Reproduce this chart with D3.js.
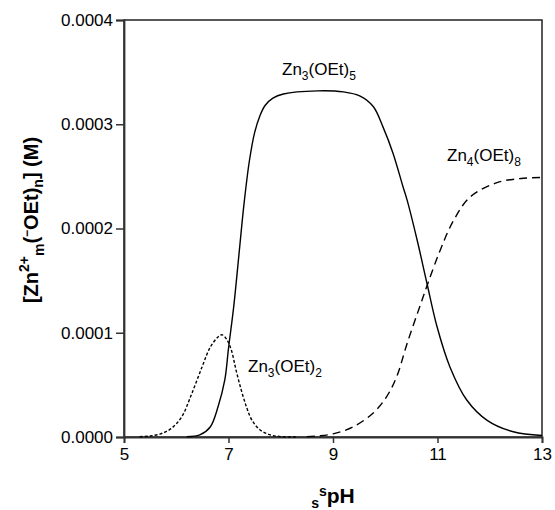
<!DOCTYPE html>
<html>
<head>
<meta charset="utf-8">
<script src="https://cdn.jsdelivr.net/npm/d3@7/dist/d3.min.js"></script>
<style>
  html, body { margin: 0; padding: 0; background: #fff; }
  svg { display: block; font-family: "Liberation Sans", Arial, Helvetica, sans-serif; }
</style>
</head>
<body>
<svg id="chart" width="555" height="510"></svg>
<script>
// Speciation of zinc ethoxide clusters versus pH (concentrations in M)
const zn3oet2_pH   = [5.3, 5.5, 5.7, 5.9, 6.1, 6.3, 6.5, 6.65, 6.8, 6.88, 6.96, 7.05, 7.15, 7.25, 7.35, 7.45, 7.6, 7.8, 8.0, 8.3];
const zn3oet2_conc = [0.0000003, 0.000001, 0.000003, 0.000008, 0.000019, 0.000042, 0.000068, 0.000086, 0.000096, 0.000098, 0.000094, 0.000084, 0.000063, 0.000044, 0.000028, 0.000016, 0.000007, 0.000002, 0.0000004, 0];

const zn3oet5_pH   = [6.2, 6.45, 6.65, 6.8, 6.93, 7.0, 7.1, 7.2, 7.3, 7.4, 7.5, 7.6, 7.7, 7.85, 8.05, 8.7, 9.2, 9.52, 9.77, 9.96, 10.15, 10.34, 10.42, 10.61, 10.8, 10.99, 11.24, 11.56, 11.95, 12.45, 13.0];
const zn3oet5_conc = [0.0000003, 0.000002, 0.0000096, 0.000029, 0.000055, 0.000085, 0.000125, 0.000175, 0.000225, 0.000265, 0.000292, 0.000308, 0.000318, 0.000325, 0.000329, 0.000332, 0.000331, 0.000327, 0.000317, 0.000297, 0.000272, 0.00024, 0.000227, 0.000189, 0.000147, 0.000106, 0.000067, 0.0000355, 0.000016, 0.000005, 0.0000015];

const zn4oet8_pH   = [8.5, 8.7, 9.0, 9.38, 9.77, 10.03, 10.22, 10.42, 10.66, 10.82, 11.05, 11.3, 11.62, 12.14, 12.6, 13.0];
const zn4oet8_conc = [0.0000003, 0.000001, 0.000003, 0.0000096, 0.000023, 0.000039, 0.000058, 0.00009, 0.000125, 0.000148, 0.000179, 0.000207, 0.00023, 0.000244, 0.000248, 0.000249];

const xTicks = [5, 7, 9, 11, 13];
const yTicks = [0, 0.0001, 0.0002, 0.0003, 0.0004];

const svg = d3.select("#chart");
const plotLeft = 124, plotRight = 542, plotTop = 20, plotBottom = 437;

const x = d3.scaleLinear().domain([5, 13]).range([plotLeft, plotRight]);
const y = d3.scaleLinear().domain([0, 0.0004]).range([plotBottom, plotTop]);

// frame
svg.append("rect")
  .attr("x", plotLeft).attr("y", plotTop)
  .attr("width", plotRight - plotLeft).attr("height", plotBottom - plotTop)
  .attr("fill", "none").attr("stroke", "#222").attr("stroke-width", 1.5);

// axes
const gx = svg.append("g")
  .attr("transform", `translate(0,${plotBottom})`)
  .call(d3.axisBottom(x).tickValues(xTicks).tickFormat(d3.format("d")).tickSize(6).tickPadding(5));
const gy = svg.append("g")
  .attr("transform", `translate(${plotLeft},0)`)
  .call(d3.axisLeft(y).tickValues(yTicks).tickFormat(d3.format(".4f")).tickSize(8).tickPadding(3));

[gx, gy].forEach(g => {
  g.selectAll(".domain").attr("stroke", "#333").attr("stroke-width", 1.8);
  g.selectAll(".tick line").attr("stroke", "#333").attr("stroke-width", 1.5);
  g.selectAll(".tick text")
    .attr("fill", "#000")
    .style("font-size", "17px")
    .style("font-family", "'Liberation Sans', Arial, Helvetica, sans-serif");
});

// curves
const line = d3.line()
  .x(d => x(d[0]))
  .y(d => y(Math.max(0, d[1])))
  .curve(d3.curveCatmullRom.alpha(0.5));

const series = [
  { pH: zn3oet2_pH, conc: zn3oet2_conc, dash: "3,2" },
  { pH: zn3oet5_pH, conc: zn3oet5_conc, dash: null },
  { pH: zn4oet8_pH, conc: zn4oet8_conc, dash: "8,5" }
];

series.forEach(s => {
  svg.append("path")
    .datum(d3.zip(s.pH, s.conc))
    .attr("d", line)
    .attr("fill", "none")
    .attr("stroke", "#000")
    .attr("stroke-width", 1.4)
    .attr("stroke-dasharray", s.dash);
});

// species labels with subscripts
function speciesLabel(px, py, base, sub1, mid, sub2) {
  const t = svg.append("text")
    .attr("x", px).attr("y", py)
    .style("font-size", "17px")
    .attr("fill", "#000");
  t.append("tspan").text(base);
  t.append("tspan").attr("dy", 5).style("font-size", "12px").text(sub1);
  t.append("tspan").attr("dy", -5).text(mid);
  t.append("tspan").attr("dy", 5).style("font-size", "12px").text(sub2);
}
speciesLabel(282, 75, "Zn", "3", "(OEt)", "5");
speciesLabel(447, 161, "Zn", "4", "(OEt)", "8");
speciesLabel(248, 372, "Zn", "3", "(OEt)", "2");

// x-axis title: sub-s, super-s, pH
const xt = svg.append("text")
  .attr("x", 333).attr("y", 503)
  .attr("text-anchor", "middle")
  .style("font-weight", "bold")
  .style("font-size", "21px")
  .attr("fill", "#000");
xt.append("tspan").attr("dy", 5).style("font-size", "14px").text("s");
xt.append("tspan").attr("dy", -12).style("font-size", "14px").text("s");
xt.append("tspan").attr("dy", 7).text("pH");

// y-axis title
const yt = svg.append("text")
  .attr("transform", "translate(38,220) rotate(-90)")
  .attr("text-anchor", "middle")
  .style("font-weight", "bold")
  .style("font-size", "20px")
  .attr("fill", "#000");
yt.append("tspan").text("[Zn");
yt.append("tspan").attr("dy", -9).style("font-size", "14px").text("2+");
yt.append("tspan").attr("dy", 15).style("font-size", "14px").text("m");
yt.append("tspan").attr("dy", -6).text("(");
yt.append("tspan").attr("dy", -7).style("font-size", "12px").text("\u2212");
yt.append("tspan").attr("dy", 7).text("OEt)");
yt.append("tspan").attr("dy", 5).style("font-size", "14px").text("n");
yt.append("tspan").attr("dy", -5).text("] (M)");
</script>
</body>
</html>
